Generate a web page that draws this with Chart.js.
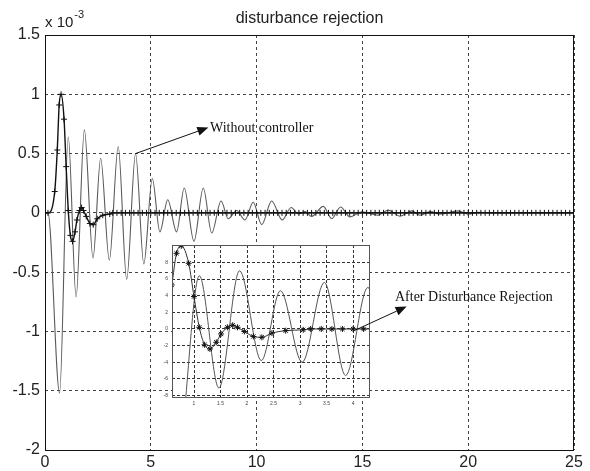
<!DOCTYPE html>
<html>
<head>
<meta charset="utf-8">
<script src="https://cdn.jsdelivr.net/npm/chart.js@4.4.0/dist/chart.umd.min.js"></script>
<style>
  html, body { margin: 0; padding: 0; background: #fff; }
  #wrap { position: relative; width: 590px; height: 471px; }
  #wrap canvas { position: absolute; left: 0; top: 0; }
</style>
</head>
<body>
<div id="wrap">
  <canvas id="main" width="590" height="471"></canvas>
  <canvas id="inset" width="590" height="471"></canvas>
</div>
<script>
// response without controller (time in s, value in 1e-3)
const tOpen = [0, 0.14, 0.69, 1.10, 1.47, 1.86, 2.27, 2.63, 3.04, 3.46,
  3.86, 4.28, 4.67, 5.07, 5.43, 5.80, 6.22, 6.58, 7.04, 7.48,
  7.88, 8.32, 8.66, 9.06, 9.45, 9.84, 10.24, 10.71, 11.21, 11.63,
  11.98, 12.29, 12.60, 13.15, 13.55, 13.97, 14.41, 14.98, 15.74, 16.22,
  16.78, 17.33, 17.72, 18.20, 18.67, 19.52, 20.00, 20.50, 21.00, 25];
const yOpen = [0, 0, -1.52, 0.64, -0.71, 0.70, -0.38, 0.46, -0.40, 0.56,
  -0.56, 0.50, -0.43, 0.29, -0.16, 0.11, -0.16, 0.21, -0.24, 0.21,
  -0.17, 0.10, -0.05, 0.02, -0.06, 0.09, -0.10, 0.10, -0.06, 0.045,
  -0.01, 0.01, -0.03, 0.055, -0.048, 0.05, -0.034, 0.008, -0.02, 0.023,
  -0.028, 0.017, -0.02, 0.01, -0.01, 0.017, -0.01, 0.005, 0, 0];

// response after disturbance rejection
const tRej = [0, 0.14, 0.46, 0.58, 0.67, 0.76, 0.90, 1.00, 1.10, 1.20,
  1.30, 1.42, 1.51, 1.63, 1.73, 1.82, 1.95, 2.12, 2.28, 2.47,
  2.73, 3.06,
  3.2, 3.4, 3.6, 3.8, 4.0, 4.2, 4.4, 4.6, 4.8, 5.0,
  5.2, 5.4, 5.6, 5.8, 6.0, 6.2, 6.4, 6.6, 6.8, 7.0,
  7.2, 7.4, 7.6, 7.8, 8.0, 8.2, 8.4, 8.6, 8.8, 9.0,
  9.2, 9.4, 9.6, 9.8, 10.0, 10.2, 10.4, 10.6, 10.8, 11.0,
  11.2, 11.4, 11.6, 11.8, 12.0, 12.2, 12.4, 12.6, 12.8, 13.0,
  13.2, 13.4, 13.6, 13.8, 14.0, 14.2, 14.4, 14.6, 14.8, 15.0,
  15.2, 15.4, 15.6, 15.8, 16.0, 16.2, 16.4, 16.6, 16.8, 17.0,
  17.2, 17.4, 17.6, 17.8, 18.0, 18.2, 18.4, 18.6, 18.8, 19.0,
  19.2, 19.4, 19.6, 19.8, 20.0, 20.2, 20.4, 20.6, 20.8, 21.0,
  21.2, 21.4, 21.6, 21.8, 22.0, 22.2, 22.4, 22.6, 22.8, 23.0,
  23.2, 23.4, 23.6, 23.8, 24.0, 24.2, 24.4, 24.6, 24.8, 25.0];
const yRej = [0, 0, 0.18, 0.53, 0.91, 1.0, 0.79, 0.39, 0.02, -0.19,
  -0.24, -0.16, -0.06, 0.02, 0.045, 0.02, -0.03, -0.09, -0.10, -0.05,
  -0.02, -0.01,
  0, 0, 0, 0, 0, 0, 0, 0, 0, 0,
  0, 0, 0, 0, 0, 0, 0, 0, 0, 0,
  0, 0, 0, 0, 0, 0, 0, 0, 0, 0,
  0, 0, 0, 0, 0, 0, 0, 0, 0, 0,
  0, 0, 0, 0, 0, 0, 0, 0, 0, 0,
  0, 0, 0, 0, 0, 0, 0, 0, 0, 0,
  0, 0, 0, 0, 0, 0, 0, 0, 0, 0,
  0, 0, 0, 0, 0, 0, 0, 0, 0, 0,
  0, 0, 0, 0, 0, 0, 0, 0, 0, 0,
  0, 0, 0, 0, 0, 0, 0, 0, 0, 0,
  0, 0, 0, 0, 0, 0, 0, 0, 0, 0];

const xTicks = [0, 5, 10, 15, 20, 25];
const yTicks = [-2, -1.5, -1, -0.5, 0, 0.5, 1, 1.5];
const insetXTicks = [1, 1.5, 2, 2.5, 3, 3.5, 4];
const insetYTicks = [-8, -6, -4, -2, 0, 2, 4, 6, 8];

const SANS = '"Liberation Sans", Arial, Helvetica, sans-serif';
const SERIF = '"Liberation Serif", "Times New Roman", serif';

const toPts = (ts, ys, k) => ts.map((t, i) => ({ x: t, y: ys[i] * k }));
const setTicks = (list) => (s) => { s.ticks = list.map(v => ({ value: v })); };

function arrow(ctx, x1, y1, x2, y2) {
  const a = Math.atan2(y2 - y1, x2 - x1), L = 11, W = 4.5;
  ctx.beginPath();
  ctx.moveTo(x1, y1);
  ctx.lineTo(x2 - L * Math.cos(a), y2 - L * Math.sin(a));
  ctx.stroke();
  ctx.beginPath();
  ctx.moveTo(x2, y2);
  ctx.lineTo(x2 - L * Math.cos(a) + W * Math.sin(a), y2 - L * Math.sin(a) - W * Math.cos(a));
  ctx.lineTo(x2 - L * Math.cos(a) - W * Math.sin(a), y2 - L * Math.sin(a) + W * Math.cos(a));
  ctx.closePath();
  ctx.fill();
}

const mainFrame = {
  id: 'mainFrame',
  afterDraw(chart) {
    const { ctx, chartArea: a } = chart;
    ctx.save();
    ctx.strokeStyle = '#111';
    ctx.lineWidth = 1;
    ctx.setLineDash([]);
    ctx.strokeRect(a.left + 0.5, a.top + 0.5, a.right - a.left - 1, a.bottom - a.top);
    ctx.fillStyle = '#222';
    ctx.textBaseline = 'alphabetic';
    ctx.textAlign = 'center';
    ctx.font = '16px ' + SANS;
    ctx.fillText('disturbance rejection', (a.left + a.right) / 2, 23);
    ctx.textAlign = 'left';
    ctx.font = '15px ' + SANS;
    ctx.fillText('x 10', a.left, 27);
    const w = ctx.measureText('x 10').width;
    ctx.font = '11px ' + SANS;
    ctx.fillText('-3', a.left + w + 1, 18);
    ctx.restore();
  }
};

const mainChart = new Chart(document.getElementById('main'), {
  type: 'line',
  data: {
    datasets: [
      {
        data: toPts(tRej, yRej, 1),
        borderColor: '#111',
        borderWidth: 1.4,
        pointStyle: 'cross',
        pointRadius: 3,
        pointBorderColor: '#111',
        pointBorderWidth: 1,
        cubicInterpolationMode: 'monotone',
        order: 0
      },
      {
        data: toPts(tOpen, yOpen, 1),
        borderColor: '#5a5a5a',
        borderWidth: 1.1,
        pointRadius: 0,
        cubicInterpolationMode: 'monotone',
        order: 1
      }
    ]
  },
  options: {
    responsive: false,
    animation: false,
    events: [],
    layout: { padding: { left: 0, right: 16, top: 35, bottom: 0 } },
    plugins: { legend: { display: false }, tooltip: { enabled: false } },
    scales: {
      x: {
        type: 'linear', min: 0, max: 25,
        afterBuildTicks: setTicks(xTicks),
        afterFit: (s) => { s.height = 21; },
        grid: { color: '#444', lineWidth: 1, drawTicks: false },
        border: { display: false, dash: [3, 3] },
        ticks: { font: { family: SANS, size: 16 }, color: '#222', padding: 3, maxRotation: 0, callback: v => String(v) }
      },
      y: {
        type: 'linear', min: -2, max: 1.5,
        afterBuildTicks: setTicks(yTicks),
        afterFit: (s) => { s.width = 45; },
        grid: { color: '#444', lineWidth: 1, drawTicks: false },
        border: { display: false, dash: [3, 3] },
        ticks: { font: { family: SANS, size: 16 }, color: '#222', padding: 5, callback: v => String(v) }
      }
    }
  },
  plugins: [mainFrame]
});

// annotation anchors, in main axis units
const note1 = { from: [4.28, 0.50], to: [7.72, 0.72], text: [7.80, 0.68], label: 'Without controller' };
const note2 = { from: [14.65, -0.99], to: [17.09, -0.79], text: [16.54, -0.745], label: 'After Disturbance Rejection' };

const insetFrame = {
  id: 'insetFrame',
  beforeDraw(chart) {
    const { ctx, chartArea: a } = chart;
    ctx.save();
    ctx.fillStyle = '#fff';
    ctx.fillRect(a.left, a.top, a.right - a.left, a.bottom - a.top);
    ctx.restore();
  },
  afterDraw(chart) {
    const { ctx, chartArea: a } = chart;
    ctx.save();
    ctx.strokeStyle = '#555';
    ctx.lineWidth = 1;
    ctx.strokeRect(a.left + 0.5, a.top + 0.5, a.right - a.left - 1, a.bottom - a.top - 1);
    const mx = mainChart.scales.x, my = mainChart.scales.y;
    ctx.strokeStyle = '#111';
    ctx.fillStyle = '#111';
    ctx.lineWidth = 1;
    [note1, note2].forEach(n => {
      arrow(ctx, mx.getPixelForValue(n.from[0]), my.getPixelForValue(n.from[1]),
        mx.getPixelForValue(n.to[0]), my.getPixelForValue(n.to[1]));
      ctx.font = '14px ' + SERIF;
      ctx.textAlign = 'left';
      ctx.textBaseline = 'alphabetic';
      ctx.fillText(n.label, mx.getPixelForValue(n.text[0]), my.getPixelForValue(n.text[1]));
    });
    ctx.restore();
  }
};

new Chart(document.getElementById('inset'), {
  type: 'line',
  data: {
    datasets: [
      {
        data: toPts(tRej, yRej, 10),
        borderColor: '#333',
        borderWidth: 1,
        pointStyle: 'star',
        pointRadius: 3,
        pointBorderColor: '#111',
        pointBorderWidth: 1,
        cubicInterpolationMode: 'monotone',
        clip: 0,
        order: 0
      },
      {
        data: toPts(tOpen, yOpen, 10),
        borderColor: '#555',
        borderWidth: 1,
        pointRadius: 0,
        cubicInterpolationMode: 'monotone',
        clip: 0,
        order: 1
      }
    ]
  },
  options: {
    responsive: false,
    animation: false,
    events: [],
    layout: { padding: { left: 150, right: 220, top: 245, bottom: 59 } },
    plugins: { legend: { display: false }, tooltip: { enabled: false } },
    scales: {
      x: {
        type: 'linear', min: 0.585, max: 4.32,
        afterBuildTicks: setTicks(insetXTicks),
        afterFit: (s) => { s.height = 14; },
        grid: { color: '#333', lineWidth: 1, drawTicks: false },
        border: { display: false, dash: [3, 2] },
        ticks: { font: { family: SANS, size: 5 }, color: '#444', padding: 3, maxRotation: 0, callback: v => String(v) }
      },
      y: {
        type: 'linear', min: -8.3, max: 10.1,
        afterBuildTicks: setTicks(insetYTicks),
        afterFit: (s) => { s.width = 22; },
        grid: { color: '#333', lineWidth: 1, drawTicks: false },
        border: { display: false, dash: [3, 2] },
        ticks: { font: { family: SANS, size: 5 }, color: '#444', padding: 4, callback: v => String(v) }
      }
    }
  },
  plugins: [insetFrame]
});
</script>
</body>
</html>
